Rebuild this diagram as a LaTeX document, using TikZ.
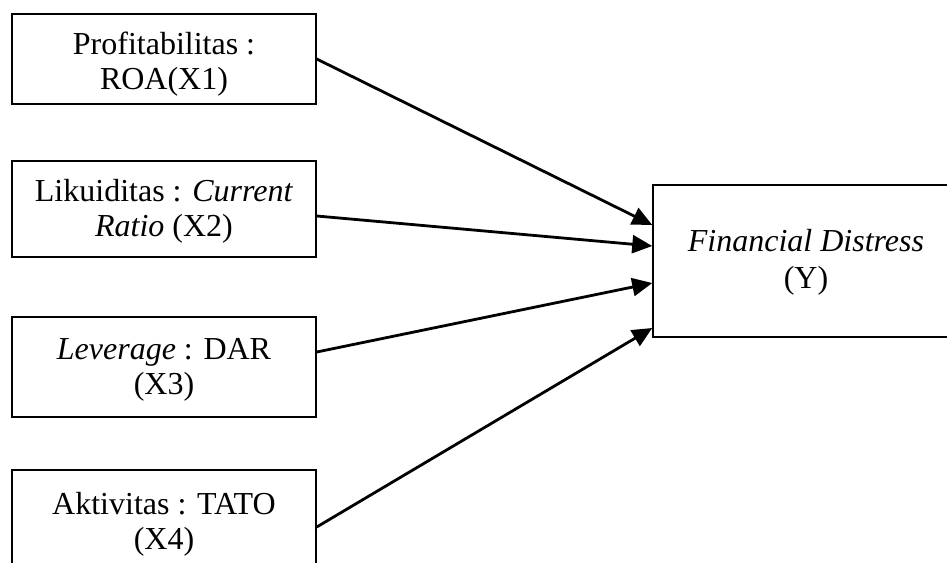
\documentclass[tikz,border=0pt]{standalone}
\usepackage{fontspec}
\setmainfont{Liberation Serif}
\usetikzlibrary{arrows.meta}
\begin{document}
\begin{tikzpicture}[x=1pt,y=-1pt,
  box/.style={draw, line width=1.5pt, rectangle, inner sep=0pt},
  lbl/.style={align=center, font=\fontsize{32}{35}\selectfont, inner sep=0pt},
  link/.style={line width=2.8pt, -{Triangle[length=20pt,width=18pt]}}]
\useasboundingbox (0,0) rectangle (947,562);
\clip (0,0) rectangle (947,562);
\node[box, minimum width=304pt, minimum height=90pt] (b1) at (164,59) {};
\node[box, minimum width=304pt, minimum height=96pt] (b2) at (164,209) {};
\node[box, minimum width=304pt, minimum height=100pt] (b3) at (164,367) {};
\node[box, minimum width=304pt, minimum height=114pt] (b4) at (164,527) {};
\node[box, minimum width=306pt, minimum height=152pt] (y) at (806,261) {};
\node[lbl] (t1) at (164,64.5) {Profitabilitas :\\ROA(X1)};
\node[lbl] (t2) at (164,211.5) {Likuiditas : \textit{Current}\\\textit{Ratio} (X2)};
\node[lbl] (t3) at (164,369.5) {\textit{Leverage} : DAR\\(X3)};
\node[lbl] (t4) at (164,524.5) {Aktivitas : TATO\\(X4)};
\node[lbl, font=\fontsize{32}{37}\selectfont] (ty) at (806,262) {\textit{Financial Distress}\\(Y)};
\draw[link] (b1.east) -- ([yshift=36pt]y.west);
\draw[link] ([yshift=-7pt]b2.east) -- ([yshift=15pt]y.west);
\draw[link] ([yshift=15pt]b3.east) -- ([yshift=-22pt]y.west);
\draw[link] (b4.east) -- ([yshift=-67pt]y.west);
\end{tikzpicture}
\end{document}
